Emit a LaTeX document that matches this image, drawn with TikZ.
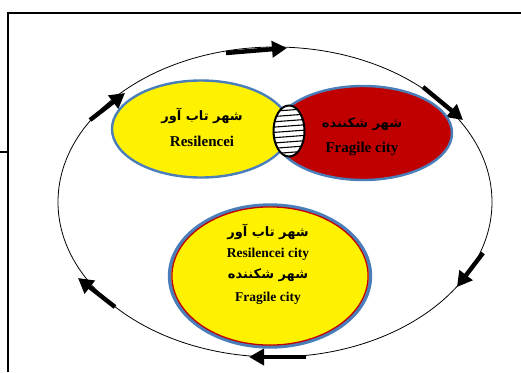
\documentclass[tikz,border=0pt]{standalone}
\usepackage{fontspec}
\setmainfont{Liberation Serif}
\newfontfamily\farsi[Script=Arabic]{DejaVu Sans}
\TeXXeTstate=1
\usetikzlibrary{arrows.meta,shapes.geometric}
\definecolor{rimblue}{HTML}{4A7EBB}
\definecolor{cityred}{HTML}{C00000}
\tikzset{
  city/.style={ellipse, draw=rimblue, line width=2.4pt, inner sep=0pt},
  flow/.style={line width=4.4pt, -{Triangle[length=15pt,width=16pt]}},
  fa/.style={font=\farsi\bfseries\fontsize{13}{15}\selectfont},
  en/.style={font=\bfseries\fontsize{15}{17}\selectfont},
  ensmall/.style={font=\bfseries\fontsize{13.5}{15}\selectfont},
}
\begin{document}
\begin{tikzpicture}[x=1pt,y=-1pt]
            \useasboundingbox (0,0) rectangle (521,372);
            % frame
            \draw[line width=2pt] (8,372) -- (8,13) -- (521,13);
            \draw[line width=2pt] (0,152) -- (8,152);
            % cycle
            \node[draw, ellipse, line width=0.8pt, inner sep=0pt, minimum width=434pt, minimum height=310pt] (cycle) at (275,202) {};
            \draw[flow] (226,53) -- (287,48);
            \draw[flow] (423,87) -- (463,120);
            \draw[flow] (483,253) -- (457,287);
            \draw[flow] (306,357) -- (249,357);
            \draw[flow] (115,307) -- (78,278);
            \draw[flow] (90,120) -- (125,93);
            % the two cities
            \node[city, fill=yellow, minimum width=178pt, minimum height=97pt] (resil) at (201,129) {};
            \node[city, fill=cityred, minimum width=178pt, minimum height=94pt] (fragile) at (363,133) {};
            \node[ellipse, fill=white, inner sep=0pt, minimum width=31pt, minimum height=51pt] (overlap) at (289,131) {};
            \begin{scope}
              \clip (overlap.center) ellipse [x radius=15.5pt, y radius=25.5pt];
              \foreach \y in {110,115.3,...,154}
                \draw[line width=1.1pt] (270,\y+1.5) -- (310,\y-1.5);
            \end{scope}
            \draw[line width=2pt] (overlap.center) ellipse [x radius=15.5pt, y radius=25.5pt];
            \node[fa] (resilfa) at (202,116) {\beginR شهر تاب آور\endR};
            \node[en] (resilen) at (202,141) {Resilencei};
            \node[fa] (fragilefa) at (362,124) {\beginR شهر شکننده\endR};
            \node[en] (fragileen) at (362,149) {Fragile city};
            % both
            \node[city, fill=yellow, line width=3.4pt, minimum width=201pt, minimum height=142pt] (both) at (270,276) {};
            \draw[cityred, line width=1.3pt] (both.center) ellipse [x radius=98.1pt, y radius=69.1pt];
            \node[fa] (bothfa) at (268,232) {\beginR شهر تاب آور\endR};
            \node[ensmall] (bothen) at (268,254) {Resilencei city};
            \node[fa] (bothfb) at (268,275) {\beginR شهر شکننده\endR};
            \node[ensmall] (bothec) at (268,298) {Fragile city};
\end{tikzpicture}
\end{document}
